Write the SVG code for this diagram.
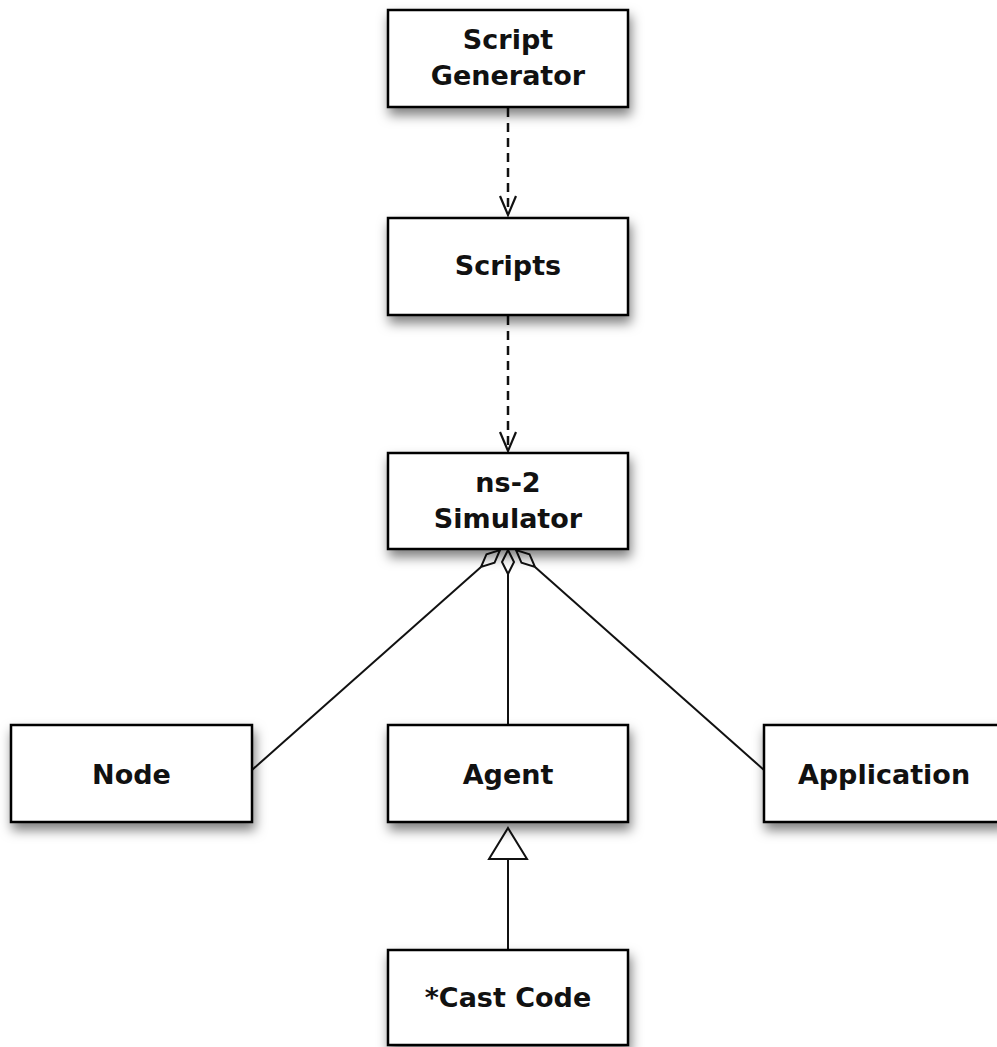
<svg xmlns="http://www.w3.org/2000/svg" width="997" height="1047" viewBox="0 0 997 1047">
<style>
.box{fill:#fff;stroke:#000;stroke-width:2.5;filter:url(#sh)}
.lbl{font-family:"DejaVu Sans",sans-serif;font-weight:bold;font-size:27px;fill:#111;text-anchor:middle}
.ln{stroke:#111;stroke-width:2;fill:none}
.dash{stroke:#111;stroke-width:2.5;fill:none;stroke-dasharray:9 6}
.dia{fill:#fff;stroke:#111;stroke-width:2}
.arr{fill:none;stroke:#111;stroke-width:2.2}
</style>
<defs>
<filter id="sh" x="-20%" y="-20%" width="140%" height="160%">
<feDropShadow dx="2" dy="7" stdDeviation="6" flood-color="#000" flood-opacity="0.5"/>
</filter>
</defs>
<g id="connectors">
<line class="dash" x1="508" y1="108" x2="508" y2="214"/>
<path class="arr" d="M500,196 L508,215 L516,196"/>
<line class="dash" x1="508" y1="316" x2="508" y2="450"/>
<path class="arr" d="M500,432 L508,451 L516,432"/>
<line class="ln" x1="481" y1="567" x2="252" y2="770"/>
<line class="ln" x1="535" y1="567" x2="764" y2="770"/>
<line class="ln" x1="508" y1="574" x2="508" y2="726"/>
<polygon class="dia" points="500,550 494.5,562.8 481,567 486.5,554.2"/>
<polygon class="dia" points="516,550 521.5,562.8 535,567 529.5,554.2"/>
<polygon class="dia" points="508,550 514,562 508,574 502,562"/>
<line class="ln" x1="508" y1="859" x2="508" y2="950"/>
<polygon class="dia" points="508,828 527,859 489,859"/>
</g>
<g id="script-generator">
<rect class="box" x="388" y="10" width="240" height="97"/>
<text class="lbl" x="508" y="49">Script</text>
<text class="lbl" x="508" y="85">Generator</text>
</g>
<g id="scripts">
<rect class="box" x="388" y="218" width="240" height="97"/>
<text class="lbl" x="508" y="275">Scripts</text>
</g>
<g id="ns2-simulator">
<rect class="box" x="388" y="453" width="240" height="96"/>
<text class="lbl" x="508" y="492">ns-2</text>
<text class="lbl" x="508" y="528">Simulator</text>
</g>
<g id="node">
<rect class="box" x="11" y="725" width="241" height="97"/>
<text class="lbl" x="131.5" y="784">Node</text>
</g>
<g id="agent">
<rect class="box" x="388" y="725" width="240" height="97"/>
<text class="lbl" x="508" y="784">Agent</text>
</g>
<g id="application">
<rect class="box" x="764" y="725" width="240" height="97"/>
<text class="lbl" x="884" y="784">Application</text>
</g>
<g id="cast-code">
<rect class="box" x="388" y="950" width="240" height="95"/>
<text class="lbl" x="508" y="1007">*Cast Code</text>
</g>
</svg>
